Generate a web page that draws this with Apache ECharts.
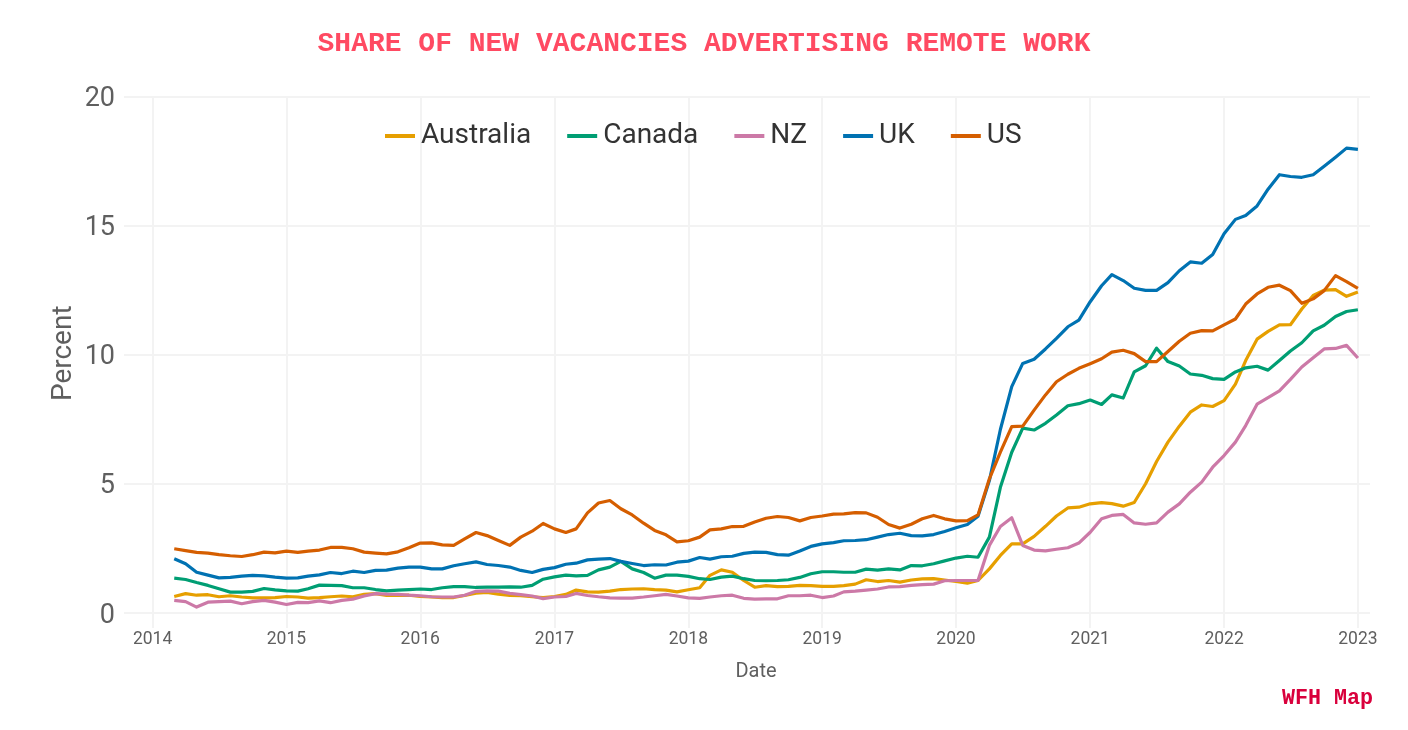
<!DOCTYPE html>
<html><head><meta charset="utf-8">
<style>html,body{margin:0;padding:0;background:#fff}#c{width:1408px;height:730px}</style>
<script src="https://cdn.jsdelivr.net/npm/echarts@6/dist/echarts.min.js"></script>
</head><body><div id="c"></div>
<script>
const startYear = 2014, startMonth = 2; // first reading: March 2014
const yearTicks = [2014,2015,2016,2017,2018,2019,2020,2021,2022,2023];
const percentTicks = [0,5,10,15,20];
const Australia = [0.63,0.74,0.68,0.70,0.62,0.66,0.61,0.58,0.58,0.59,0.63,0.61,0.57,0.59,0.62,0.65,0.62,0.71,0.74,0.67,0.67,0.68,0.63,0.61,0.59,0.59,0.67,0.76,0.79,0.72,0.67,0.66,0.62,0.59,0.63,0.71,0.88,0.81,0.80,0.84,0.90,0.92,0.93,0.90,0.88,0.81,0.89,0.97,1.45,1.66,1.57,1.25,0.99,1.05,1.01,1.02,1.06,1.05,1.02,1.02,1.05,1.11,1.28,1.21,1.25,1.19,1.27,1.31,1.32,1.27,1.21,1.15,1.25,1.70,2.22,2.67,2.67,2.96,3.35,3.75,4.06,4.09,4.22,4.27,4.23,4.13,4.27,5.00,5.86,6.61,7.23,7.77,8.05,7.99,8.22,8.86,9.77,10.60,10.90,11.15,11.16,11.77,12.29,12.50,12.52,12.26,12.43];
const Canada = [1.34,1.29,1.17,1.06,0.93,0.80,0.80,0.83,0.94,0.89,0.85,0.84,0.93,1.07,1.06,1.05,0.97,0.97,0.90,0.85,0.88,0.90,0.92,0.90,0.97,1.01,1.01,0.98,0.99,0.99,1.00,0.99,1.06,1.30,1.39,1.46,1.43,1.45,1.66,1.77,1.99,1.70,1.56,1.34,1.46,1.46,1.41,1.32,1.29,1.38,1.42,1.32,1.25,1.24,1.25,1.28,1.37,1.51,1.59,1.59,1.57,1.57,1.69,1.65,1.70,1.66,1.83,1.82,1.90,2.01,2.12,2.19,2.15,2.93,4.86,6.22,7.15,7.08,7.34,7.66,8.02,8.10,8.24,8.07,8.44,8.32,9.33,9.57,10.25,9.73,9.56,9.25,9.20,9.07,9.04,9.33,9.49,9.55,9.40,9.77,10.14,10.46,10.92,11.14,11.48,11.67,11.74];
const NZ = [0.48,0.43,0.22,0.41,0.43,0.45,0.35,0.43,0.48,0.41,0.32,0.40,0.39,0.46,0.39,0.48,0.53,0.65,0.74,0.72,0.71,0.68,0.66,0.62,0.61,0.61,0.68,0.83,0.85,0.84,0.75,0.70,0.65,0.55,0.61,0.63,0.75,0.67,0.62,0.58,0.57,0.57,0.61,0.66,0.71,0.65,0.58,0.56,0.61,0.66,0.68,0.56,0.53,0.54,0.54,0.66,0.66,0.68,0.59,0.65,0.81,0.84,0.88,0.92,1.00,1.01,1.06,1.09,1.11,1.24,1.25,1.25,1.25,2.61,3.34,3.68,2.61,2.43,2.40,2.46,2.52,2.70,3.12,3.64,3.77,3.81,3.48,3.43,3.48,3.90,4.22,4.67,5.06,5.64,6.09,6.61,7.25,8.08,8.33,8.60,9.04,9.52,9.88,10.22,10.24,10.36,9.87];
const UK = [2.09,1.90,1.57,1.46,1.35,1.37,1.42,1.45,1.43,1.38,1.34,1.35,1.42,1.47,1.56,1.52,1.61,1.56,1.64,1.65,1.73,1.77,1.77,1.70,1.70,1.82,1.90,1.97,1.87,1.83,1.77,1.64,1.56,1.68,1.75,1.88,1.92,2.05,2.08,2.10,1.99,1.91,1.83,1.86,1.85,1.96,2.00,2.14,2.08,2.17,2.19,2.30,2.35,2.34,2.25,2.23,2.39,2.57,2.67,2.72,2.79,2.80,2.83,2.93,3.03,3.08,2.99,2.98,3.03,3.15,3.29,3.42,3.74,5.12,7.10,8.76,9.66,9.82,10.22,10.63,11.08,11.34,12.05,12.67,13.10,12.87,12.57,12.49,12.49,12.79,13.25,13.59,13.54,13.88,14.68,15.24,15.39,15.76,16.41,16.97,16.90,16.87,16.97,17.30,17.65,18.00,17.95];
const US = [2.48,2.41,2.34,2.31,2.25,2.21,2.18,2.25,2.35,2.32,2.39,2.34,2.39,2.43,2.53,2.53,2.48,2.35,2.31,2.28,2.36,2.52,2.70,2.71,2.63,2.61,2.86,3.11,2.99,2.80,2.61,2.93,3.16,3.46,3.25,3.11,3.25,3.87,4.25,4.35,4.03,3.79,3.47,3.19,3.02,2.75,2.79,2.93,3.21,3.25,3.34,3.35,3.52,3.66,3.73,3.69,3.56,3.69,3.75,3.82,3.83,3.88,3.87,3.70,3.42,3.28,3.43,3.64,3.77,3.64,3.56,3.57,3.79,5.19,6.22,7.21,7.23,7.85,8.44,8.95,9.24,9.47,9.65,9.84,10.10,10.17,10.04,9.73,9.73,10.12,10.52,10.83,10.93,10.92,11.15,11.38,11.96,12.35,12.61,12.69,12.48,11.99,12.16,12.48,13.06,12.83,12.57];
const seriesNames = ['Australia','Canada','NZ','UK','US'];
const seriesValues = [Australia,Canada,NZ,UK,US];
const seriesColors = ['#E69F00','#009E73','#CC79A7','#0072B2','#D55E00'];
const monthOf = i => Date.UTC(startYear, startMonth + i, 1);
const yearMs = y => Date.UTC(y, 0, 1);
const chart = echarts.init(document.getElementById('c'), null, {renderer:'canvas'});
const gridColor = '#f3f3f3';
chart.setOption({
  animation:false,
  backgroundColor:'#fff',
  title:[
    {text:'SHARE OF NEW VACANCIES ADVERTISING REMOTE WORK',left:699,top:25,textAlign:'center',
     textStyle:{fontFamily:'Liberation Mono',fontWeight:'bold',fontSize:28,color:'#FF4A62'}},
    {text:'WFH Map',right:30,top:683,
     textStyle:{fontFamily:'Liberation Mono',fontWeight:'bold',fontSize:21.7,color:'#D9003C'}}
  ],
  legend:{
    data:seriesNames,top:117,left:380,
    itemWidth:30,itemHeight:4,itemGap:36,icon:'rect',
    textStyle:{fontFamily:'Roboto',fontSize:28,color:'#333',padding:[0,0,0,1]}
  },
  grid:{left:124,right:38,top:96.5,bottom:102},
  xAxis:{
    type:'value',scale:true,
    min:Date.UTC(2013,9,15),max:Date.UTC(2023,1,3),
    name:'Date',nameLocation:'middle',nameGap:34,
    nameTextStyle:{fontFamily:'Roboto',fontSize:20,color:'#5f5f5f',padding:[0,0,0,18]},
    axisLine:{show:false},
    axisTick:{show:false,customValues:yearTicks.map(yearMs)},
    axisLabel:{fontFamily:'Roboto',fontSize:17.5,color:'#5f5f5f',margin:3,
      customValues:yearTicks.map(yearMs),
      formatter:v=>String(new Date(v).getUTCFullYear())},
    splitLine:{show:true,lineStyle:{color:gridColor,width:2}}
  },
  yAxis:{
    type:'value',min:-0.59,max:20,
    name:'Percent',nameLocation:'middle',nameGap:46,nameMoveOverlap:false,
    nameTextStyle:{fontFamily:'Roboto',fontSize:28,color:'#5f5f5f',padding:[0,0,0,18]},
    axisLine:{show:false},
    axisTick:{show:false,customValues:percentTicks},
    axisLabel:{fontFamily:'Roboto',fontSize:27,color:'#5f5f5f',margin:9,verticalAlign:'top',lineHeight:6,customValues:percentTicks},
    splitLine:{show:true,lineStyle:{color:gridColor,width:2}}
  },
  series:seriesNames.map((n,k)=>({
    name:n,type:'line',showSymbol:false,symbol:'none',
    data:seriesValues[k].map((v,i)=>[monthOf(i),v]),
    itemStyle:{color:seriesColors[k]},
    lineStyle:{color:seriesColors[k],width:3.2,join:'round'}
  }))
});
</script></body></html>
